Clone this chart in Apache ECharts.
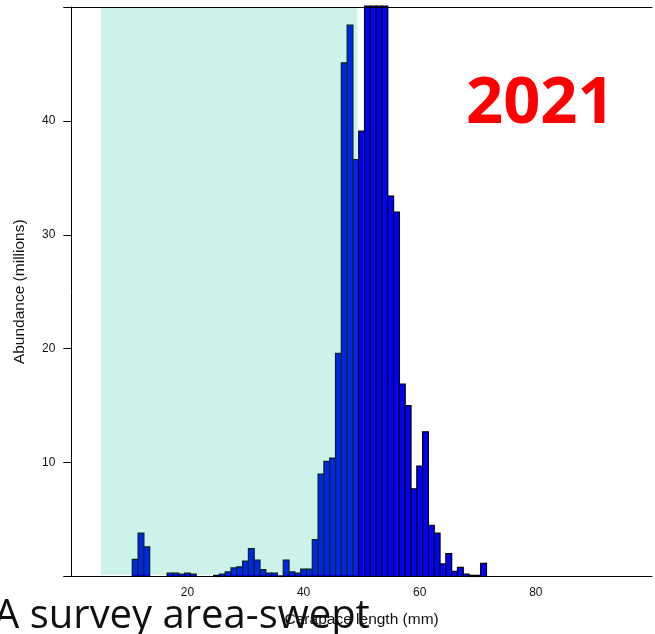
<!DOCTYPE html>
<html>
<head>
<meta charset="utf-8">
<script src="https://cdn.jsdelivr.net/npm/echarts@6/dist/echarts.min.js"></script>
<style>
  html, body { margin: 0; padding: 0; background: #fff; }
  #chart { width: 655px; height: 634px; }
</style>
</head>
<body>
<div id="chart"></div>
<script>
// Carapace length bins (mm, 1-mm bins centred on each value)
const lengths = [11, 12, 13, 14, 15, 16, 17, 18, 19, 20,
                 21, 22, 23, 24, 25, 26, 27, 28, 29, 30,
                 31, 32, 33, 34, 35, 36, 37, 38, 39, 40,
                 41, 42, 43, 44, 45, 46, 47, 48, 49, 50,
                 51, 52, 53, 54, 55, 56, 57, 58, 59, 60,
                 61, 62, 63, 64, 65, 66, 67, 68, 69, 70, 71];
// Abundance per bin (millions); bins 51-54 run past the top of the axis
const abundance = [1.5, 3.8, 2.6, 0, 0, 0, 0.3, 0.3, 0.2, 0.3,
                   0.2, 0, 0, 0, 0.1, 0.2, 0.4, 0.75, 0.85, 1.35,
                   2.45, 1.45, 0.6, 0.3, 0.3, 0.05, 1.45, 0.4, 0.3, 0.65,
                   0.65, 3.25, 9.0, 10.1, 10.4, 19.6, 45.1, 48.4, 36.6, 39.1,
                   58, 64, 61, 53, 33.4, 32.0, 16.9, 15.0, 7.7, 9.7,
                   12.7, 4.5, 3.8, 1.1, 2.0, 0.45, 0.8, 0.2, 0.1, 0.1, 1.15];
// Tick labels shown on each axis
const xTickLabels = [20, 40, 60, 80];
const yTickLabels = [10, 20, 30, 40];
// Shaded length range (mm)
const shadedRange = [5.1, 49.3];

const chart = echarts.init(document.getElementById('chart'));

const barData = lengths.map((len, i) => [len, abundance[i]]);

function clipToGrid(rect, cs) {
  return echarts.graphic.clipRectByRect(rect, {
    x: cs.x, y: cs.y - 1, width: cs.width, height: cs.height + 1
  });
}

const option = {
  animation: false,
  backgroundColor: '#ffffff',
  grid: { left: 71.3, right: 0, top: 7, bottom: 57.5 },
  xAxis: [
    {
      type: 'value', min: 0, max: 100, interval: 20, z: 10,
      axisLine: { show: true, lineStyle: { color: '#000', width: 1 } },
      axisTick: { show: false },
      splitLine: { show: false },
      axisLabel: {
        fontFamily: 'Liberation Sans, Arial', fontSize: 12, color: '#111', margin: 10,
        formatter: v => (xTickLabels.indexOf(v) >= 0 ? String(v) : '')
      },
      name: 'Carapace length (mm)', nameLocation: 'middle', nameGap: 35,
      nameTextStyle: { fontFamily: 'Liberation Sans, Arial', fontSize: 15.5, color: '#111' }
    },
    {
      type: 'value', position: 'top', min: 0, max: 100, z: 10,
      axisLine: { show: true, lineStyle: { color: '#000', width: 1 } },
      axisTick: { show: false }, axisLabel: { show: false }, splitLine: { show: false }
    }
  ],
  yAxis: {
    type: 'value', min: 0, max: 50, interval: 10, z: 10,
    axisLine: { show: true, lineStyle: { color: '#000', width: 1 } },
    axisTick: { show: true, length: 8, lineStyle: { color: '#000' } },
    splitLine: { show: false },
    axisLabel: {
      fontFamily: 'Liberation Sans, Arial', fontSize: 12, color: '#111', margin: 16,
      formatter: v => (yTickLabels.indexOf(v) >= 0 ? String(v) : '')
    },
    name: 'Abundance (millions)', nameLocation: 'middle', nameGap: 44, nameRotate: 90,
    nameTextStyle: { fontFamily: 'Liberation Sans, Arial', fontSize: 15.5, color: '#111' }
  },
  series: [
    {
      // histogram bars
      type: 'custom',
      z: 2,
      xAxisIndex: 0,
      data: barData,
      renderItem: function (params, api) {
        const x = api.value(0);
        const v = api.value(1);
        const p0 = api.coord([x - 0.5, v]);
        const p1 = api.coord([x + 0.5, 0]);
        const shape = clipToGrid(
          { x: p0[0], y: p0[1], width: p1[0] - p0[0], height: p1[1] - p0[1] },
          params.coordSys
        );
        if (!shape) return null;
        return {
          type: 'rect',
          shape: shape,
          style: { fill: '#0000ff', stroke: '#000', lineWidth: 1.2 }
        };
      }
    },
    {
      // translucent band laid over the bars
      type: 'custom',
      z: 5,
      xAxisIndex: 0,
      silent: true,
      data: [[shadedRange[0], shadedRange[1]]],
      renderItem: function (params, api) {
        const p0 = api.coord([api.value(0), 50]);
        const p1 = api.coord([api.value(1), 0.15]);
        const shape = clipToGrid(
          { x: p0[0], y: p0[1], width: p1[0] - p0[0], height: p1[1] - p0[1] },
          params.coordSys
        );
        return {
          type: 'rect',
          shape: shape,
          style: { fill: 'rgba(0,190,150,0.2)', stroke: null }
        };
      }
    }
  ],
  graphic: [
    {
      type: 'text', z: 100, left: 466, top: 72,
      style: {
        text: '2021', fill: '#ff0000',
        font: 'bold 65px "Open Sans", "Liberation Sans", sans-serif'
      }
    },
    {
      type: 'text', z: 0, x: -6, y: 617,
      style: {
        text: 'A survey area-swept', fill: '#111',
        font: '40px "Open Sans", "Liberation Sans", sans-serif',
        verticalAlign: 'middle'
      }
    }
  ]
};

chart.setOption(option);
</script>
</body>
</html>
